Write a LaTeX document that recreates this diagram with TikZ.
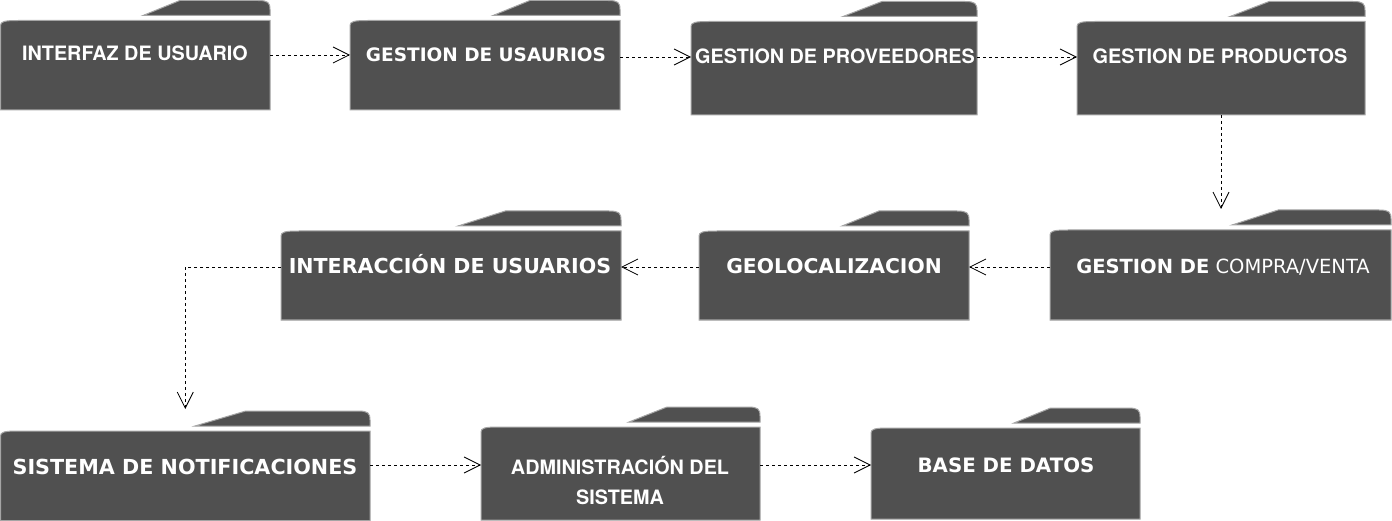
\documentclass[tikz,border=0pt]{standalone}
\usepackage{fontspec}
\usetikzlibrary{arrows.meta,calc}
\newfontfamily\libsans{TeX Gyre Heros}
\newfontfamily\djv{DejaVu Sans}
\definecolor{pkgfill}{RGB}{80,80,80}
\definecolor{pkgline}{RGB}{165,165,165}
\newcommand\pkgshape[2]{%
  \path[pkgbox] (#1.south west) -- ([yshift=-5pt]#1.north west)
     .. controls ([yshift=-1pt]#1.north west) and ([xshift=4pt]#1.north west) .. ([xshift=18pt]#1.north west)
     -- (#1.north east) -- (#1.south east) -- cycle;
  \path[pkgbox] ([xshift={-#2*1pt},yshift=5pt]#1.north east)
     -- ([xshift={-#2*0.71pt},yshift=20pt]#1.north east)
     -- ([xshift=-12pt,yshift=20pt]#1.north east)
     .. controls ([xshift=-2pt,yshift=20pt]#1.north east) and ([yshift=18pt]#1.north east) .. ([yshift=11pt]#1.north east)
     -- ([yshift=5pt]#1.north east) -- cycle;
}
\tikzset{
  pkgbox/.style={fill=pkgfill, draw=pkgline, line width=1pt},
  body/.style={rectangle, inner sep=0pt, outer sep=0pt, anchor=north west, draw=none},
  lbl/.style={text=white, inner sep=0pt, text height=14pt, text depth=0pt},
  dep/.style={draw=black, line width=0.8pt, dash pattern=on 3pt off 3pt, -{Straight Barb[length=16pt,width=16pt]}}
}
\begin{document}
\begin{tikzpicture}[x=1pt,y=-1pt]
\useasboundingbox (0,0) rectangle (1392,521);
% row 1
\node[body,minimum width=269.5pt,minimum height=89.5pt] (p1) at (0.5,20.5) {};
\pkgshape{p1}{127}
\node[lbl,font=\libsans\bfseries\fontsize{19.8}{23}\selectfont] (t1) at (135,53.5) {INTERFAZ DE USUARIO};

\node[body,minimum width=270pt,minimum height=89.5pt] (p2) at (350,20.5) {};
\pkgshape{p2}{127}
\node[lbl,font=\djv\bfseries\fontsize{18.5}{22}\selectfont] (t2) at (486,55) {GESTION DE USAURIOS};

\node[body,minimum width=286pt,minimum height=93.5pt] (p3) at (691,21.5) {};
\pkgshape{p3}{134}
\node[lbl,font=\libsans\bfseries\fontsize{19.8}{23}\selectfont] (t3) at (835,57) {GESTION DE PROVEEDORES};

\node[body,minimum width=288pt,minimum height=93.5pt] (p4) at (1077,21.5) {};
\pkgshape{p4}{135}
\node[lbl,font=\libsans\bfseries\fontsize{19.9}{23}\selectfont] (t4) at (1220,57) {GESTION DE PRODUCTOS};

% row 2
\node[body,minimum width=341pt,minimum height=90pt] (p5) at (1050,230) {};
\pkgshape{p5}{159}
\node[lbl,font=\djv\fontsize{19.5}{23}\selectfont] (t5) at (1223,267) {{\bfseries GESTION DE} COMPRA/VENTA};

\node[body,minimum width=270pt,minimum height=89pt] (p6) at (699,231) {};
\pkgshape{p6}{127}
\node[lbl,font=\djv\bfseries\fontsize{20.3}{24}\selectfont] (t6) at (834,267) {GEOLOCALIZACION};

\node[body,minimum width=340pt,minimum height=89pt] (p7) at (281,231) {};
\pkgshape{p7}{163}
\node[lbl,font=\djv\bfseries\fontsize{20.6}{24}\selectfont] (t7) at (450,267) {INTERACCIÓN DE USUARIOS};

% row 3
\node[body,minimum width=369.5pt,minimum height=89.5pt] (p8) at (0.5,431) {};
\pkgshape{p8}{175}
\node[lbl,font=\djv\bfseries\fontsize{20.7}{24}\selectfont] (t8) at (185,467) {SISTEMA DE NOTIFICACIONES};

\node[body,minimum width=279pt,minimum height=93pt] (p9) at (481,427) {};
\pkgshape{p9}{131}
\node[text=white,inner sep=0pt,align=center,font=\libsans\bfseries\fontsize{19.8}{30}\selectfont] (t9) at (620,480) {ADMINISTRACIÓN DEL\\SISTEMA};

\node[body,minimum width=269pt,minimum height=91pt] (p10) at (871,428) {};
\pkgshape{p10}{126}
\node[lbl,font=\djv\bfseries\fontsize{19.8}{23}\selectfont] (t10) at (1006,465) {BASE DE DATOS};

% tab tops used as arrow ends
\coordinate (p5top) at ([yshift=21pt]p5.north);
\coordinate (p8top) at ([yshift=22pt]p8.north);

% connectors
\draw[dep] (p1.east |- t2) -- (p2.west |- t2);
\draw[dep] (p2.east |- t3) -- (p3.west |- t3);
\draw[dep] (p3.east |- t4) -- (p4.west |- t4);
\draw[dep] (p4.south) -- (p4.south |- p5top);
\draw[dep] (p5.west |- t6) -- (p6.east |- t6);
\draw[dep] (p6.west |- t7) -- (p7.east |- t7);
\draw[dep] (p7.west |- t7) -| (p8top);
\draw[dep] (p8.east |- t10) -- (p9.west |- t10);
\draw[dep] (p9.east |- t10) -- (p10.west |- t10);
\end{tikzpicture}
\end{document}
